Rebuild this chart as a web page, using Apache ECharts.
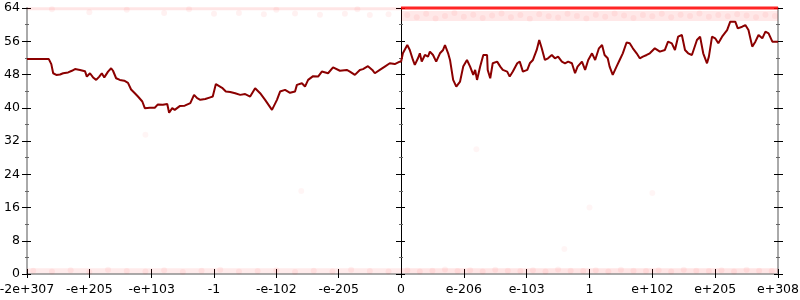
<!DOCTYPE html>
<html>
<head>
<meta charset="utf-8">
<script src="https://cdn.jsdelivr.net/npm/echarts@6/dist/echarts.min.js"></script>
<style>html,body{margin:0;padding:0;background:#fff}#c{width:800px;height:300px}</style>
</head>
<body>
<div id="c"></div>
<script>
// Tick labels for x positions 0..12
var tickLabels = ['-2e+307','-e+205','-e+103','-1','-e-102','-e-205','0','e-206','e-103','1','e+102','e+205','e+308'];
var yTicks = [0, 8, 16, 24, 32, 40, 48, 56, 64];

// Dark red line, left half (x in tick units 0..6)
var leftX = [0.00,0.35,0.39,0.42,0.47,0.53,0.58,0.66,0.72,0.77,0.85,0.93,0.96,1.01,1.06,1.11,1.16,1.20,1.24,1.30,1.35,1.38,1.43,1.49,1.56,1.62,1.67,1.73,1.78,1.85,1.89,1.97,2.05,2.10,2.18,2.25,2.28,2.33,2.37,2.45,2.53,2.62,2.68,2.73,2.78,2.86,2.94,2.98,3.03,3.13,3.19,3.26,3.34,3.42,3.50,3.58,3.66,3.74,3.82,3.93,4.01,4.06,4.14,4.22,4.30,4.33,4.41,4.46,4.51,4.59,4.67,4.73,4.83,4.91,5.02,5.13,5.18,5.26,5.34,5.39,5.47,5.54,5.58,5.66,5.74,5.82,5.90,5.98,6.00];
var leftY = [51.7,51.7,50.5,48.3,47.9,48.0,48.3,48.5,48.9,49.3,49.1,48.8,47.5,48.3,47.3,46.7,47.5,48.3,47.3,48.7,49.5,48.9,47.1,46.7,46.5,46.0,44.4,43.5,42.7,41.5,39.9,40.0,40.0,40.8,40.7,40.9,38.8,39.9,39.5,40.4,40.5,41.1,43.1,42.3,41.9,42.1,42.5,42.7,45.7,44.8,43.9,43.8,43.5,43.1,43.3,42.7,44.7,43.5,41.9,39.5,41.9,43.9,44.3,43.6,43.9,45.5,45.9,45.1,46.7,47.6,47.5,48.7,48.3,49.7,48.9,49.1,48.7,47.9,49.1,49.3,50.0,49.1,48.3,49.1,49.9,50.7,50.5,51.1,51.0];

// Dark red line, right half (x in tick units 6..12)
var rightX = [6.00,6.03,6.10,6.14,6.19,6.22,6.27,6.30,6.33,6.38,6.43,6.46,6.51,6.56,6.62,6.67,6.70,6.75,6.78,6.83,6.88,6.91,6.94,6.99,7.05,7.10,7.15,7.18,7.21,7.26,7.31,7.37,7.38,7.42,7.46,7.53,7.58,7.62,7.69,7.73,7.78,7.85,7.89,7.94,8.01,8.05,8.10,8.16,8.20,8.24,8.29,8.34,8.40,8.45,8.50,8.56,8.61,8.66,8.72,8.77,8.81,8.88,8.93,8.98,9.04,9.09,9.15,9.20,9.24,9.29,9.32,9.37,9.43,9.48,9.53,9.59,9.64,9.69,9.75,9.80,9.85,9.91,9.96,10.04,10.12,10.20,10.25,10.31,10.36,10.41,10.47,10.52,10.57,10.63,10.71,10.76,10.81,10.87,10.90,10.95,11.00,11.05,11.11,11.19,11.24,11.32,11.36,11.43,11.48,11.53,11.59,11.64,11.69,11.75,11.80,11.85,11.91,11.96,12.00];
var rightY = [51.0,53.1,55.1,53.9,51.5,50.3,51.9,53.1,51.1,52.7,52.3,53.5,52.7,51.1,53.1,53.9,55.1,53.1,51.5,46.7,45.1,45.3,46.3,49.9,51.5,49.9,47.9,49.1,46.7,49.9,52.7,52.7,49.1,47.1,50.7,51.1,49.9,49.1,48.7,47.5,48.7,50.7,51.1,48.7,49.1,50.7,51.5,53.9,56.3,54.3,51.5,51.9,52.7,51.9,52.3,51.1,50.7,51.1,50.7,48.3,49.9,51.1,49.1,51.5,53.1,51.5,54.3,55.1,52.7,51.9,49.9,47.9,49.9,51.5,53.1,55.7,55.5,54.3,53.1,51.9,52.3,52.7,53.1,54.3,53.5,53.9,55.9,55.5,53.9,57.1,57.5,53.9,53.1,52.7,56.3,57.1,53.1,50.7,52.3,57.1,56.7,55.5,57.1,58.7,60.7,60.7,59.1,59.5,59.9,58.7,54.7,55.9,57.5,56.7,58.3,57.9,55.9,55.9,55.9];

// Faint red samples near the top of the right half
var topRightX = [6.1,6.25,6.4,6.55,6.7,6.85,7.0,7.15,7.3,7.45,7.6,7.75,7.9,8.05,8.2,8.35,8.5,8.65,8.8,8.95,9.1,9.25,9.4,9.55,9.7,9.85,10.0,10.15,10.3,10.45,10.6,10.75,10.9,11.05,11.2,11.35,11.5,11.65,11.8,11.95];
var topRightY = [62.3,61.8,62.6,61.5,62.1,62.8,61.9,62.4,61.6,62.2,62.7,61.8,62.3,61.4,62.5,62.0,61.7,62.6,62.1,61.5,62.4,61.9,62.7,62.2,61.6,62.3,62.0,62.6,61.8,62.4,62.1,62.7,61.9,62.3,62.0,62.5,62.2,61.8,62.4,62.1];
// Faint samples near the top of the left half
var topLeftX = [1.0,2.2,3.0,3.4,3.8,4.3,4.7,5.1,5.5,5.8,0.4,1.6,2.6,4.0,5.3];
var topLeftY = [63.0,62.8,62.6,62.8,62.5,62.7,62.4,62.6,62.3,62.5,63.7,63.6,63.7,63.6,63.7];
// Faint samples near the bottom, whole width
var bottomX = [0.1,0.4,0.7,1.0,1.3,1.6,1.9,2.2,2.5,2.8,3.1,3.4,3.7,4.0,4.3,4.6,4.9,5.2,5.5,5.8,6.1,6.3,6.5,6.7,6.9,7.1,7.3,7.5,7.7,7.9,8.1,8.3,8.5,8.7,8.9,9.1,9.3,9.5,9.7,9.9,10.1,10.3,10.5,10.7,10.9,11.1,11.3,11.5,11.7,11.9];
var bottomY = [0.8,0.6,0.9,0.5,1.0,0.7,0.6,0.9,0.5,0.8,1.0,0.6,0.7,0.9,0.5,0.8,0.6,1.0,0.7,0.6,0.9,0.6,0.8,1.1,0.7,0.9,0.6,1.0,0.8,0.7,0.9,0.6,1.1,0.8,0.7,0.9,0.6,1.0,0.8,0.7,0.9,0.6,1.0,0.8,0.7,0.9,0.6,1.0,0.8,0.7];
// A few stray samples
var strayX = [9.0, 10.0, 7.2, 8.6, 4.4, 1.9];
var strayY = [16.0, 19.5, 30.0, 6.0, 20.0, 33.5];

function pairs(xs, ys) { return xs.map(function (x, i) { return [x, ys[i]]; }); }

var font = 'DejaVu Sans';
var labelStyle = { color: '#000', fontFamily: font, fontSize: 12.5 };

function xAx(grid, min, max, main, hideMin) {
  return {
    type: 'value', gridIndex: grid, min: min, max: max, interval: 1, position: 'bottom',
    axisLine: { show: main, onZero: false, lineStyle: { color: '#aaa', width: 2 } },
    axisTick: { show: true, inside: main, length: main ? 5 : 4, lineStyle: { color: '#000', width: 1 } },
    axisLabel: main ? Object.assign({ show: true, margin: 9, showMinLabel: !hideMin, showMaxLabel: true,
      formatter: function (v) { return tickLabels[Math.round(v)]; } }, labelStyle) : { show: false },
    splitLine: { show: false }
  };
}
function yAx(grid, pos, main, lineColor, lineWidth, labels) {
  return {
    type: 'value', gridIndex: grid, min: 0, max: 64, interval: 8, position: pos,
    axisLine: { show: main, onZero: false, lineStyle: { color: lineColor, width: lineWidth } },
    axisTick: { show: true, inside: !main, length: main ? 5 : 4, lineStyle: { color: '#000', width: 1 } },
    minorTick: { show: true, splitNumber: 2, length: 2, lineStyle: { color: '#666' } },
    axisLabel: labels ? Object.assign({ show: true, margin: 7,
      formatter: function (v) { return yTicks.indexOf(v) >= 0 ? String(v) : ''; } }, labelStyle) : { show: false },
    splitLine: { show: false }, minorSplitLine: { show: false }
  };
}

var faint = 'rgba(255,0,0,0.07)';
var option = {
  animation: false,
  backgroundColor: '#fff',
  grid: [
    { left: 27, top: 8, width: 374, bottom: 26, outerBoundsMode: 'none' },
    { left: 401, top: 8, right: 22, bottom: 26, outerBoundsMode: 'none' }
  ],
  xAxis: [
    xAx(0, 0, 6, true, false), xAx(0, 0, 6, false, false),
    xAx(1, 6, 12, true, true), xAx(1, 6, 12, false, true)
  ],
  yAxis: [
    yAx(0, 'left', true, '#aaa', 2, true), yAx(0, 'left', false, '#aaa', 2, false),
    yAx(1, 'left', true, '#000', 1, false), yAx(1, 'left', false, '#000', 1, false),
    yAx(1, 'right', true, '#aaa', 2, false), yAx(1, 'right', false, '#aaa', 2, false)
  ],
  series: [
    { type: 'line', xAxisIndex: 2, yAxisIndex: 2, clip: false, showSymbol: false, silent: true,
      data: [[6, 62.1], [12, 62.1]], lineStyle: { color: 'rgba(255,0,0,0.09)', width: 10 } },
    { type: 'line', xAxisIndex: 0, yAxisIndex: 0, clip: false, showSymbol: false, silent: true,
      data: [[0, 63.8], [6, 63.8]], lineStyle: { color: 'rgba(255,0,0,0.10)', width: 3 } },
    { type: 'line', xAxisIndex: 0, yAxisIndex: 0, clip: false, showSymbol: false, silent: true,
      data: [[0, 0.8], [6, 0.8]], lineStyle: { color: 'rgba(255,0,0,0.08)', width: 5 } },
    { type: 'line', xAxisIndex: 2, yAxisIndex: 2, clip: false, showSymbol: false, silent: true,
      data: [[6, 0.8], [12, 0.8]], lineStyle: { color: 'rgba(255,0,0,0.10)', width: 5 } },
    { type: 'scatter', xAxisIndex: 2, yAxisIndex: 2, symbolSize: 6, clip: false,
      data: pairs(topRightX, topRightY), itemStyle: { color: faint } },
    { type: 'scatter', xAxisIndex: 0, yAxisIndex: 0, symbolSize: 6, clip: false,
      data: pairs(topLeftX, topLeftY), itemStyle: { color: faint } },
    { type: 'scatter', xAxisIndex: 0, yAxisIndex: 0, symbolSize: 6, clip: false,
      data: pairs(bottomX.filter(function (x) { return x <= 6; }), bottomY.filter(function (y, i) { return bottomX[i] <= 6; })), itemStyle: { color: faint } },
    { type: 'scatter', xAxisIndex: 2, yAxisIndex: 2, symbolSize: 6, clip: false,
      data: pairs(bottomX.filter(function (x) { return x > 6; }), bottomY.filter(function (y, i) { return bottomX[i] > 6; })), itemStyle: { color: faint } },
    { type: 'scatter', xAxisIndex: 2, yAxisIndex: 2, symbolSize: 6, clip: false,
      data: pairs(strayX.filter(function (x) { return x > 6; }), strayY.filter(function (y, i) { return strayX[i] > 6; })), itemStyle: { color: 'rgba(255,0,0,0.05)' } },
    { type: 'scatter', xAxisIndex: 0, yAxisIndex: 0, symbolSize: 6, clip: false,
      data: pairs(strayX.filter(function (x) { return x <= 6; }), strayY.filter(function (y, i) { return strayX[i] <= 6; })), itemStyle: { color: 'rgba(255,0,0,0.05)' } },
    { type: 'line', xAxisIndex: 2, yAxisIndex: 2, clip: false, showSymbol: false, silent: true,
      data: [[6, 64], [12, 64]], lineStyle: { color: 'rgba(255,0,0,0.85)', width: 3 } },
    { type: 'line', xAxisIndex: 0, yAxisIndex: 0, showSymbol: false, clip: false, z: 5,
      data: pairs(leftX, leftY), lineStyle: { color: '#8b0000', width: 2 } },
    { type: 'line', xAxisIndex: 2, yAxisIndex: 2, showSymbol: false, clip: false, z: 5,
      data: pairs(rightX, rightY), lineStyle: { color: '#8b0000', width: 2 } }
  ]
};
var chart = echarts.init(document.getElementById('c'), null, { renderer: 'canvas' });
chart.setOption(option);
</script>
</body>
</html>
